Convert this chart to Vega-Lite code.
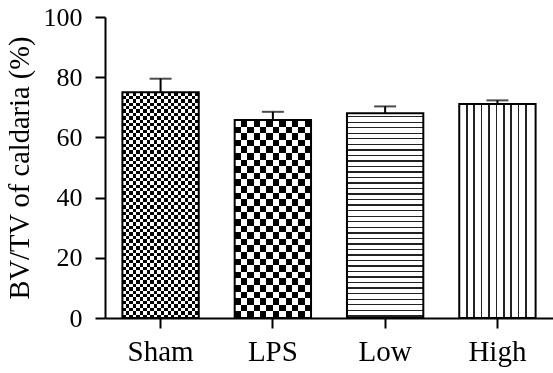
{
  "$schema": "https://vega.github.io/schema/vega-lite/v6.json",
  "width": 448,
  "height": 301,
  "autosize": "none",
  "padding": {"left": 105, "top": 17, "right": 0, "bottom": 55},
  "background": "white",
  "data": {
    "values": [
      {"group": "Sham", "mean": 75, "upper": 79.5},
      {"group": "LPS", "mean": 65.8, "upper": 68.5},
      {"group": "Low", "mean": 68, "upper": 70.3},
      {"group": "High", "mean": 71.1, "upper": 72.3}
    ]
  },
  "encoding": {
    "x": {
      "field": "group", "type": "nominal",
      "sort": ["Sham", "LPS", "Low", "High"],
      "scale": {"domain": ["Sham", "LPS", "Low", "High"], "paddingInner": 0.32, "paddingOuter": 0.155},
      "axis": {"title": null, "labelAngle": 0, "labelFontSize": 29, "labelPadding": 9}
    },
    "y": {
      "field": "mean", "type": "quantitative",
      "scale": {"domain": [0, 100], "nice": false},
      "title": "BV/TV of caldaria (%)",
      "axis": {"values": [0, 20, 40, 60, 80, 100], "labelFontSize": 26, "labelPadding": 13, "titleFontSize": 28.5, "titlePadding": 9}
    }
  },
  "layer": [
    {
      "transform": [{"filter": "datum.group === 'Sham'"}],
      "mark": {"type": "bar", "strokeWidth": 0, "fill": {"gradient": "linear", "x1": 0, "y1": 0, "x2": 1, "y2": 0, "stops": [
        {"offset": 0, "color": "#000"},
        {"offset": 0.04545, "color": "#000"}, {"offset": 0.04545, "color": "#fff"},
        {"offset": 0.09091, "color": "#fff"}, {"offset": 0.09091, "color": "#000"},
        {"offset": 0.13636, "color": "#000"}, {"offset": 0.13636, "color": "#fff"},
        {"offset": 0.18182, "color": "#fff"}, {"offset": 0.18182, "color": "#000"},
        {"offset": 0.22727, "color": "#000"}, {"offset": 0.22727, "color": "#fff"},
        {"offset": 0.27273, "color": "#fff"}, {"offset": 0.27273, "color": "#000"},
        {"offset": 0.31818, "color": "#000"}, {"offset": 0.31818, "color": "#fff"},
        {"offset": 0.36364, "color": "#fff"}, {"offset": 0.36364, "color": "#000"},
        {"offset": 0.40909, "color": "#000"}, {"offset": 0.40909, "color": "#fff"},
        {"offset": 0.45455, "color": "#fff"}, {"offset": 0.45455, "color": "#000"},
        {"offset": 0.5, "color": "#000"}, {"offset": 0.5, "color": "#fff"},
        {"offset": 0.54545, "color": "#fff"}, {"offset": 0.54545, "color": "#000"},
        {"offset": 0.59091, "color": "#000"}, {"offset": 0.59091, "color": "#fff"},
        {"offset": 0.63636, "color": "#fff"}, {"offset": 0.63636, "color": "#000"},
        {"offset": 0.68182, "color": "#000"}, {"offset": 0.68182, "color": "#fff"},
        {"offset": 0.72727, "color": "#fff"}, {"offset": 0.72727, "color": "#000"},
        {"offset": 0.77273, "color": "#000"}, {"offset": 0.77273, "color": "#fff"},
        {"offset": 0.81818, "color": "#fff"}, {"offset": 0.81818, "color": "#000"},
        {"offset": 0.86364, "color": "#000"}, {"offset": 0.86364, "color": "#fff"},
        {"offset": 0.90909, "color": "#fff"}, {"offset": 0.90909, "color": "#000"},
        {"offset": 0.95455, "color": "#000"}, {"offset": 0.95455, "color": "#fff"},
        {"offset": 1, "color": "#fff"}
      ]}}
    },
    {
      "transform": [{"filter": "datum.group === 'Sham'"}],
      "mark": {"type": "bar", "strokeWidth": 0, "blend": "difference", "fill": {"gradient": "linear", "x1": 0, "y1": 0, "x2": 0, "y2": 1, "stops": [
        {"offset": 0, "color": "#fff"},
        {"offset": 0.01515, "color": "#fff"}, {"offset": 0.01515, "color": "#000"},
        {"offset": 0.0303, "color": "#000"}, {"offset": 0.0303, "color": "#fff"},
        {"offset": 0.04545, "color": "#fff"}, {"offset": 0.04545, "color": "#000"},
        {"offset": 0.06061, "color": "#000"}, {"offset": 0.06061, "color": "#fff"},
        {"offset": 0.07576, "color": "#fff"}, {"offset": 0.07576, "color": "#000"},
        {"offset": 0.09091, "color": "#000"}, {"offset": 0.09091, "color": "#fff"},
        {"offset": 0.10606, "color": "#fff"}, {"offset": 0.10606, "color": "#000"},
        {"offset": 0.12121, "color": "#000"}, {"offset": 0.12121, "color": "#fff"},
        {"offset": 0.13636, "color": "#fff"}, {"offset": 0.13636, "color": "#000"},
        {"offset": 0.15152, "color": "#000"}, {"offset": 0.15152, "color": "#fff"},
        {"offset": 0.16667, "color": "#fff"}, {"offset": 0.16667, "color": "#000"},
        {"offset": 0.18182, "color": "#000"}, {"offset": 0.18182, "color": "#fff"},
        {"offset": 0.19697, "color": "#fff"}, {"offset": 0.19697, "color": "#000"},
        {"offset": 0.21212, "color": "#000"}, {"offset": 0.21212, "color": "#fff"},
        {"offset": 0.22727, "color": "#fff"}, {"offset": 0.22727, "color": "#000"},
        {"offset": 0.24242, "color": "#000"}, {"offset": 0.24242, "color": "#fff"},
        {"offset": 0.25758, "color": "#fff"}, {"offset": 0.25758, "color": "#000"},
        {"offset": 0.27273, "color": "#000"}, {"offset": 0.27273, "color": "#fff"},
        {"offset": 0.28788, "color": "#fff"}, {"offset": 0.28788, "color": "#000"},
        {"offset": 0.30303, "color": "#000"}, {"offset": 0.30303, "color": "#fff"},
        {"offset": 0.31818, "color": "#fff"}, {"offset": 0.31818, "color": "#000"},
        {"offset": 0.33333, "color": "#000"}, {"offset": 0.33333, "color": "#fff"},
        {"offset": 0.34848, "color": "#fff"}, {"offset": 0.34848, "color": "#000"},
        {"offset": 0.36364, "color": "#000"}, {"offset": 0.36364, "color": "#fff"},
        {"offset": 0.37879, "color": "#fff"}, {"offset": 0.37879, "color": "#000"},
        {"offset": 0.39394, "color": "#000"}, {"offset": 0.39394, "color": "#fff"},
        {"offset": 0.40909, "color": "#fff"}, {"offset": 0.40909, "color": "#000"},
        {"offset": 0.42424, "color": "#000"}, {"offset": 0.42424, "color": "#fff"},
        {"offset": 0.43939, "color": "#fff"}, {"offset": 0.43939, "color": "#000"},
        {"offset": 0.45455, "color": "#000"}, {"offset": 0.45455, "color": "#fff"},
        {"offset": 0.4697, "color": "#fff"}, {"offset": 0.4697, "color": "#000"},
        {"offset": 0.48485, "color": "#000"}, {"offset": 0.48485, "color": "#fff"},
        {"offset": 0.5, "color": "#fff"}, {"offset": 0.5, "color": "#000"},
        {"offset": 0.51515, "color": "#000"}, {"offset": 0.51515, "color": "#fff"},
        {"offset": 0.5303, "color": "#fff"}, {"offset": 0.5303, "color": "#000"},
        {"offset": 0.54545, "color": "#000"}, {"offset": 0.54545, "color": "#fff"},
        {"offset": 0.56061, "color": "#fff"}, {"offset": 0.56061, "color": "#000"},
        {"offset": 0.57576, "color": "#000"}, {"offset": 0.57576, "color": "#fff"},
        {"offset": 0.59091, "color": "#fff"}, {"offset": 0.59091, "color": "#000"},
        {"offset": 0.60606, "color": "#000"}, {"offset": 0.60606, "color": "#fff"},
        {"offset": 0.62121, "color": "#fff"}, {"offset": 0.62121, "color": "#000"},
        {"offset": 0.63636, "color": "#000"}, {"offset": 0.63636, "color": "#fff"},
        {"offset": 0.65152, "color": "#fff"}, {"offset": 0.65152, "color": "#000"},
        {"offset": 0.66667, "color": "#000"}, {"offset": 0.66667, "color": "#fff"},
        {"offset": 0.68182, "color": "#fff"}, {"offset": 0.68182, "color": "#000"},
        {"offset": 0.69697, "color": "#000"}, {"offset": 0.69697, "color": "#fff"},
        {"offset": 0.71212, "color": "#fff"}, {"offset": 0.71212, "color": "#000"},
        {"offset": 0.72727, "color": "#000"}, {"offset": 0.72727, "color": "#fff"},
        {"offset": 0.74242, "color": "#fff"}, {"offset": 0.74242, "color": "#000"},
        {"offset": 0.75758, "color": "#000"}, {"offset": 0.75758, "color": "#fff"},
        {"offset": 0.77273, "color": "#fff"}, {"offset": 0.77273, "color": "#000"},
        {"offset": 0.78788, "color": "#000"}, {"offset": 0.78788, "color": "#fff"},
        {"offset": 0.80303, "color": "#fff"}, {"offset": 0.80303, "color": "#000"},
        {"offset": 0.81818, "color": "#000"}, {"offset": 0.81818, "color": "#fff"},
        {"offset": 0.83333, "color": "#fff"}, {"offset": 0.83333, "color": "#000"},
        {"offset": 0.84848, "color": "#000"}, {"offset": 0.84848, "color": "#fff"},
        {"offset": 0.86364, "color": "#fff"}, {"offset": 0.86364, "color": "#000"},
        {"offset": 0.87879, "color": "#000"}, {"offset": 0.87879, "color": "#fff"},
        {"offset": 0.89394, "color": "#fff"}, {"offset": 0.89394, "color": "#000"},
        {"offset": 0.90909, "color": "#000"}, {"offset": 0.90909, "color": "#fff"},
        {"offset": 0.92424, "color": "#fff"}, {"offset": 0.92424, "color": "#000"},
        {"offset": 0.93939, "color": "#000"}, {"offset": 0.93939, "color": "#fff"},
        {"offset": 0.95455, "color": "#fff"}, {"offset": 0.95455, "color": "#000"},
        {"offset": 0.9697, "color": "#000"}, {"offset": 0.9697, "color": "#fff"},
        {"offset": 0.98485, "color": "#fff"}, {"offset": 0.98485, "color": "#000"},
        {"offset": 1, "color": "#000"}
      ]}}
    },
    {
      "transform": [{"filter": "datum.group === 'LPS'"}],
      "mark": {"type": "bar", "strokeWidth": 0, "fill": {"gradient": "linear", "x1": 0, "y1": 0, "x2": 1, "y2": 0, "stops": [
        {"offset": 0, "color": "#000"},
        {"offset": 0.08333, "color": "#000"}, {"offset": 0.08333, "color": "#fff"},
        {"offset": 0.16667, "color": "#fff"}, {"offset": 0.16667, "color": "#000"},
        {"offset": 0.25, "color": "#000"}, {"offset": 0.25, "color": "#fff"},
        {"offset": 0.33333, "color": "#fff"}, {"offset": 0.33333, "color": "#000"},
        {"offset": 0.41667, "color": "#000"}, {"offset": 0.41667, "color": "#fff"},
        {"offset": 0.5, "color": "#fff"}, {"offset": 0.5, "color": "#000"},
        {"offset": 0.58333, "color": "#000"}, {"offset": 0.58333, "color": "#fff"},
        {"offset": 0.66667, "color": "#fff"}, {"offset": 0.66667, "color": "#000"},
        {"offset": 0.75, "color": "#000"}, {"offset": 0.75, "color": "#fff"},
        {"offset": 0.83333, "color": "#fff"}, {"offset": 0.83333, "color": "#000"},
        {"offset": 0.91667, "color": "#000"}, {"offset": 0.91667, "color": "#fff"},
        {"offset": 1, "color": "#fff"}
      ]}}
    },
    {
      "transform": [{"filter": "datum.group === 'LPS'"}],
      "mark": {"type": "bar", "strokeWidth": 0, "blend": "difference", "fill": {"gradient": "linear", "x1": 0, "y1": 0, "x2": 0, "y2": 1, "stops": [
        {"offset": 0, "color": "#fff"},
        {"offset": 0.03333, "color": "#fff"}, {"offset": 0.03333, "color": "#000"},
        {"offset": 0.06667, "color": "#000"}, {"offset": 0.06667, "color": "#fff"},
        {"offset": 0.1, "color": "#fff"}, {"offset": 0.1, "color": "#000"},
        {"offset": 0.13333, "color": "#000"}, {"offset": 0.13333, "color": "#fff"},
        {"offset": 0.16667, "color": "#fff"}, {"offset": 0.16667, "color": "#000"},
        {"offset": 0.2, "color": "#000"}, {"offset": 0.2, "color": "#fff"},
        {"offset": 0.23333, "color": "#fff"}, {"offset": 0.23333, "color": "#000"},
        {"offset": 0.26667, "color": "#000"}, {"offset": 0.26667, "color": "#fff"},
        {"offset": 0.3, "color": "#fff"}, {"offset": 0.3, "color": "#000"},
        {"offset": 0.33333, "color": "#000"}, {"offset": 0.33333, "color": "#fff"},
        {"offset": 0.36667, "color": "#fff"}, {"offset": 0.36667, "color": "#000"},
        {"offset": 0.4, "color": "#000"}, {"offset": 0.4, "color": "#fff"},
        {"offset": 0.43333, "color": "#fff"}, {"offset": 0.43333, "color": "#000"},
        {"offset": 0.46667, "color": "#000"}, {"offset": 0.46667, "color": "#fff"},
        {"offset": 0.5, "color": "#fff"}, {"offset": 0.5, "color": "#000"},
        {"offset": 0.53333, "color": "#000"}, {"offset": 0.53333, "color": "#fff"},
        {"offset": 0.56667, "color": "#fff"}, {"offset": 0.56667, "color": "#000"},
        {"offset": 0.6, "color": "#000"}, {"offset": 0.6, "color": "#fff"},
        {"offset": 0.63333, "color": "#fff"}, {"offset": 0.63333, "color": "#000"},
        {"offset": 0.66667, "color": "#000"}, {"offset": 0.66667, "color": "#fff"},
        {"offset": 0.7, "color": "#fff"}, {"offset": 0.7, "color": "#000"},
        {"offset": 0.73333, "color": "#000"}, {"offset": 0.73333, "color": "#fff"},
        {"offset": 0.76667, "color": "#fff"}, {"offset": 0.76667, "color": "#000"},
        {"offset": 0.8, "color": "#000"}, {"offset": 0.8, "color": "#fff"},
        {"offset": 0.83333, "color": "#fff"}, {"offset": 0.83333, "color": "#000"},
        {"offset": 0.86667, "color": "#000"}, {"offset": 0.86667, "color": "#fff"},
        {"offset": 0.9, "color": "#fff"}, {"offset": 0.9, "color": "#000"},
        {"offset": 0.93333, "color": "#000"}, {"offset": 0.93333, "color": "#fff"},
        {"offset": 0.96667, "color": "#fff"}, {"offset": 0.96667, "color": "#000"},
        {"offset": 1, "color": "#000"}
      ]}}
    },
    {
      "transform": [{"filter": "datum.group === 'Low'"}],
      "mark": {"type": "bar", "strokeWidth": 0, "fill": {"gradient": "linear", "x1": 0, "y1": 0, "x2": 0, "y2": 1, "stops": [
        {"offset": 0, "color": "#fff"},
        {"offset": 0.013, "color": "#fff"}, {"offset": 0.013, "color": "#222"}, {"offset": 0.0198, "color": "#222"}, {"offset": 0.0198, "color": "#fff"},
        {"offset": 0.04, "color": "#fff"}, {"offset": 0.04, "color": "#222"}, {"offset": 0.0468, "color": "#222"}, {"offset": 0.0468, "color": "#fff"},
        {"offset": 0.0671, "color": "#fff"}, {"offset": 0.0671, "color": "#222"}, {"offset": 0.0739, "color": "#222"}, {"offset": 0.0739, "color": "#fff"},
        {"offset": 0.0941, "color": "#fff"}, {"offset": 0.0941, "color": "#222"}, {"offset": 0.1009, "color": "#222"}, {"offset": 0.1009, "color": "#fff"},
        {"offset": 0.1211, "color": "#fff"}, {"offset": 0.1211, "color": "#222"}, {"offset": 0.1279, "color": "#222"}, {"offset": 0.1279, "color": "#fff"},
        {"offset": 0.1481, "color": "#fff"}, {"offset": 0.1481, "color": "#222"}, {"offset": 0.1549, "color": "#222"}, {"offset": 0.1549, "color": "#fff"},
        {"offset": 0.1752, "color": "#fff"}, {"offset": 0.1752, "color": "#222"}, {"offset": 0.182, "color": "#222"}, {"offset": 0.182, "color": "#fff"},
        {"offset": 0.2022, "color": "#fff"}, {"offset": 0.2022, "color": "#222"}, {"offset": 0.209, "color": "#222"}, {"offset": 0.209, "color": "#fff"},
        {"offset": 0.2292, "color": "#fff"}, {"offset": 0.2292, "color": "#222"}, {"offset": 0.236, "color": "#222"}, {"offset": 0.236, "color": "#fff"},
        {"offset": 0.2562, "color": "#fff"}, {"offset": 0.2562, "color": "#222"}, {"offset": 0.263, "color": "#222"}, {"offset": 0.263, "color": "#fff"},
        {"offset": 0.2833, "color": "#fff"}, {"offset": 0.2833, "color": "#222"}, {"offset": 0.2901, "color": "#222"}, {"offset": 0.2901, "color": "#fff"},
        {"offset": 0.3103, "color": "#fff"}, {"offset": 0.3103, "color": "#222"}, {"offset": 0.3171, "color": "#222"}, {"offset": 0.3171, "color": "#fff"},
        {"offset": 0.3373, "color": "#fff"}, {"offset": 0.3373, "color": "#222"}, {"offset": 0.3441, "color": "#222"}, {"offset": 0.3441, "color": "#fff"},
        {"offset": 0.3644, "color": "#fff"}, {"offset": 0.3644, "color": "#222"}, {"offset": 0.3712, "color": "#222"}, {"offset": 0.3712, "color": "#fff"},
        {"offset": 0.3914, "color": "#fff"}, {"offset": 0.3914, "color": "#222"}, {"offset": 0.3982, "color": "#222"}, {"offset": 0.3982, "color": "#fff"},
        {"offset": 0.4184, "color": "#fff"}, {"offset": 0.4184, "color": "#222"}, {"offset": 0.4252, "color": "#222"}, {"offset": 0.4252, "color": "#fff"},
        {"offset": 0.4454, "color": "#fff"}, {"offset": 0.4454, "color": "#222"}, {"offset": 0.4522, "color": "#222"}, {"offset": 0.4522, "color": "#fff"},
        {"offset": 0.4725, "color": "#fff"}, {"offset": 0.4725, "color": "#222"}, {"offset": 0.4793, "color": "#222"}, {"offset": 0.4793, "color": "#fff"},
        {"offset": 0.4995, "color": "#fff"}, {"offset": 0.4995, "color": "#222"}, {"offset": 0.5063, "color": "#222"}, {"offset": 0.5063, "color": "#fff"},
        {"offset": 0.5265, "color": "#fff"}, {"offset": 0.5265, "color": "#222"}, {"offset": 0.5333, "color": "#222"}, {"offset": 0.5333, "color": "#fff"},
        {"offset": 0.5535, "color": "#fff"}, {"offset": 0.5535, "color": "#222"}, {"offset": 0.5603, "color": "#222"}, {"offset": 0.5603, "color": "#fff"},
        {"offset": 0.5806, "color": "#fff"}, {"offset": 0.5806, "color": "#222"}, {"offset": 0.5874, "color": "#222"}, {"offset": 0.5874, "color": "#fff"},
        {"offset": 0.6076, "color": "#fff"}, {"offset": 0.6076, "color": "#222"}, {"offset": 0.6144, "color": "#222"}, {"offset": 0.6144, "color": "#fff"},
        {"offset": 0.6346, "color": "#fff"}, {"offset": 0.6346, "color": "#222"}, {"offset": 0.6414, "color": "#222"}, {"offset": 0.6414, "color": "#fff"},
        {"offset": 0.6616, "color": "#fff"}, {"offset": 0.6616, "color": "#222"}, {"offset": 0.6684, "color": "#222"}, {"offset": 0.6684, "color": "#fff"},
        {"offset": 0.6887, "color": "#fff"}, {"offset": 0.6887, "color": "#222"}, {"offset": 0.6955, "color": "#222"}, {"offset": 0.6955, "color": "#fff"},
        {"offset": 0.7157, "color": "#fff"}, {"offset": 0.7157, "color": "#222"}, {"offset": 0.7225, "color": "#222"}, {"offset": 0.7225, "color": "#fff"},
        {"offset": 0.7427, "color": "#fff"}, {"offset": 0.7427, "color": "#222"}, {"offset": 0.7495, "color": "#222"}, {"offset": 0.7495, "color": "#fff"},
        {"offset": 0.7698, "color": "#fff"}, {"offset": 0.7698, "color": "#222"}, {"offset": 0.7766, "color": "#222"}, {"offset": 0.7766, "color": "#fff"},
        {"offset": 0.7968, "color": "#fff"}, {"offset": 0.7968, "color": "#222"}, {"offset": 0.8036, "color": "#222"}, {"offset": 0.8036, "color": "#fff"},
        {"offset": 0.8238, "color": "#fff"}, {"offset": 0.8238, "color": "#222"}, {"offset": 0.8306, "color": "#222"}, {"offset": 0.8306, "color": "#fff"},
        {"offset": 0.8508, "color": "#fff"}, {"offset": 0.8508, "color": "#222"}, {"offset": 0.8576, "color": "#222"}, {"offset": 0.8576, "color": "#fff"},
        {"offset": 0.8779, "color": "#fff"}, {"offset": 0.8779, "color": "#222"}, {"offset": 0.8847, "color": "#222"}, {"offset": 0.8847, "color": "#fff"},
        {"offset": 0.9049, "color": "#fff"}, {"offset": 0.9049, "color": "#222"}, {"offset": 0.9117, "color": "#222"}, {"offset": 0.9117, "color": "#fff"},
        {"offset": 0.9319, "color": "#fff"}, {"offset": 0.9319, "color": "#222"}, {"offset": 0.9387, "color": "#222"}, {"offset": 0.9387, "color": "#fff"},
        {"offset": 0.9589, "color": "#fff"}, {"offset": 0.9589, "color": "#222"}, {"offset": 0.9657, "color": "#222"}, {"offset": 0.9657, "color": "#fff"},
        {"offset": 0.986, "color": "#fff"}, {"offset": 0.986, "color": "#222"}, {"offset": 0.9928, "color": "#222"}, {"offset": 0.9928, "color": "#fff"},
        {"offset": 1, "color": "#fff"}
      ]}}
    },
    {
      "transform": [{"filter": "datum.group === 'High'"}],
      "mark": {"type": "bar", "strokeWidth": 0, "fill": {"gradient": "linear", "x1": 0, "y1": 0, "x2": 1, "y2": 0, "stops": [
        {"offset": 0, "color": "#fff"},
        {"offset": 0.089, "color": "#fff"}, {"offset": 0.089, "color": "#222"}, {"offset": 0.111, "color": "#222"}, {"offset": 0.111, "color": "#fff"},
        {"offset": 0.186, "color": "#fff"}, {"offset": 0.186, "color": "#222"}, {"offset": 0.208, "color": "#222"}, {"offset": 0.208, "color": "#fff"},
        {"offset": 0.282, "color": "#fff"}, {"offset": 0.282, "color": "#222"}, {"offset": 0.304, "color": "#222"}, {"offset": 0.304, "color": "#fff"},
        {"offset": 0.379, "color": "#fff"}, {"offset": 0.379, "color": "#222"}, {"offset": 0.401, "color": "#222"}, {"offset": 0.401, "color": "#fff"},
        {"offset": 0.475, "color": "#fff"}, {"offset": 0.475, "color": "#222"}, {"offset": 0.497, "color": "#222"}, {"offset": 0.497, "color": "#fff"},
        {"offset": 0.572, "color": "#fff"}, {"offset": 0.572, "color": "#222"}, {"offset": 0.594, "color": "#222"}, {"offset": 0.594, "color": "#fff"},
        {"offset": 0.668, "color": "#fff"}, {"offset": 0.668, "color": "#222"}, {"offset": 0.69, "color": "#222"}, {"offset": 0.69, "color": "#fff"},
        {"offset": 0.765, "color": "#fff"}, {"offset": 0.765, "color": "#222"}, {"offset": 0.787, "color": "#222"}, {"offset": 0.787, "color": "#fff"},
        {"offset": 0.861, "color": "#fff"}, {"offset": 0.861, "color": "#222"}, {"offset": 0.883, "color": "#222"}, {"offset": 0.883, "color": "#fff"},
        {"offset": 1, "color": "#fff"}
      ]}}
    },
    {
      "mark": {"type": "bar", "fill": "transparent", "stroke": "#000", "strokeWidth": 2}
    },
    {
      "mark": {"type": "rule", "color": "#000", "strokeWidth": 2},
      "encoding": {"y2": {"field": "upper"}}
    },
    {
      "mark": {"type": "tick", "color": "#000", "size": 22, "thickness": 2},
      "encoding": {
        "y": {"field": "upper", "type": "quantitative", "title": "BV/TV of caldaria (%)"}
      }
    }
  ],
  "config": {
    "view": {"stroke": null},
    "axis": {
      "grid": false,
      "domainColor": "#000",
      "domainWidth": 2,
      "tickColor": "#000",
      "tickWidth": 2,
      "tickSize": 10,
      "labelFont": "Liberation Serif",
      "labelColor": "#000",
      "titleFont": "Liberation Serif",
      "titleColor": "#000",
      "titleFontWeight": "normal"
    }
  }
}
